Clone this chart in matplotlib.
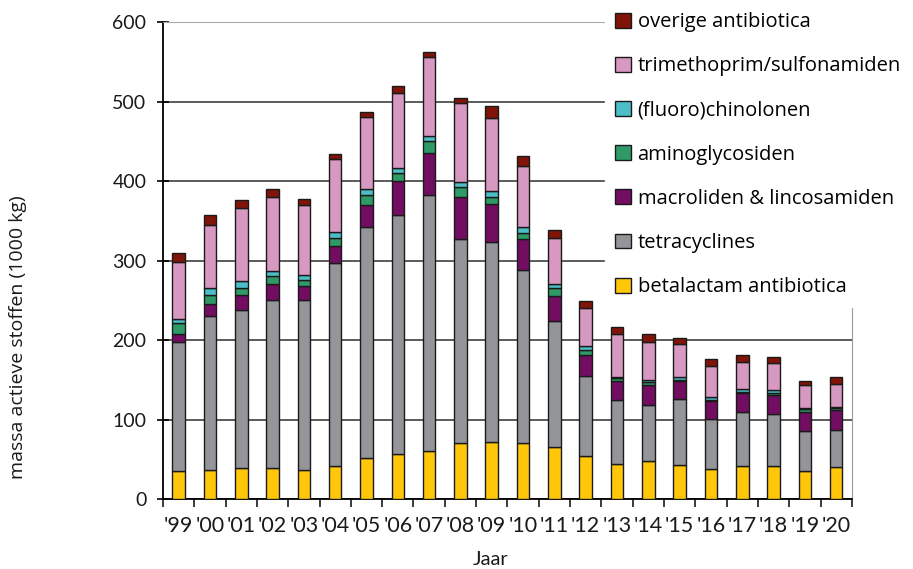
import matplotlib.pyplot as plt
import numpy as np
from matplotlib.patches import Patch

plt.rcParams['font.family'] = ['Lato', 'DejaVu Sans']

years = ["'99", "'00", "'01", "'02", "'03", "'04", "'05", "'06", "'07", "'08", "'09",
         "'10", "'11", "'12", "'13", "'14", "'15", "'16", "'17", "'18", "'19", "'20"]

# massa actieve stoffen (1000 kg) per groep
betalactam = [35, 37, 39, 39, 36, 41, 51, 57, 61, 71, 72, 71, 66, 54, 44, 48, 43, 38, 42, 42, 35, 40]
tetracyclines = [163, 193, 199, 212, 214, 256, 291, 300, 321, 256, 252, 217, 158, 101, 80, 70, 83, 63, 67, 65, 50, 47]
macroliden = [10, 16, 19, 20, 18, 22, 28, 43, 54, 53, 47, 39, 32, 26, 25, 26, 22, 22, 24, 24, 25, 25]
aminoglycosiden = [13, 11, 9, 10, 8, 10, 12, 10, 14, 12, 9, 8, 9, 6, 3, 3, 2, 2, 2, 2, 3, 3]
fluorochinolonen = [6, 8, 8, 6, 6, 7, 8, 7, 7, 7, 8, 7, 6, 5, 2, 3, 4, 3, 4, 4, 1, 1]
trimethoprim = [71, 80, 92, 93, 88, 92, 91, 94, 99, 99, 91, 77, 57, 48, 54, 48, 41, 40, 34, 34, 29, 29]
overige = [12, 13, 10, 10, 7, 6, 6, 9, 7, 7, 15, 12, 10, 9, 8, 10, 8, 8, 8, 8, 6, 8]

series = [
    ("betalactam antibiotica", betalactam, "#FFC60A"),
    ("tetracyclines", tetracyclines, "#939598"),
    ("macroliden & lincosamiden", macroliden, "#730D62"),
    ("aminoglycosiden", aminoglycosiden, "#2F9A68"),
    ("(fluoro)chinolonen", fluorochinolonen, "#4DBEC8"),
    ("trimethoprim/sulfonamiden", trimethoprim, "#D799C1"),
    ("overige antibiotica", overige, "#801409"),
]

fig = plt.figure(figsize=(9.13, 5.69), dpi=100)
ax = fig.add_axes([0.1785, 0.123, 0.7545, 0.838])

x = np.arange(len(years))
bottom = np.zeros(len(years))
handles = []
for name, vals, col in series:
    vals = np.array(vals, dtype=float)
    ax.bar(x, vals, bottom=bottom, width=0.4, color=col, edgecolor="#1a1a1a",
           linewidth=1.0, zorder=3)
    bottom += vals
    handles.append(Patch(facecolor=col, edgecolor="#1a1a1a", linewidth=1.0, label=name))

ax.set_xlim(-0.5, len(years) - 0.5)
ax.set_ylim(0, 600)
ax.set_yticks(range(0, 601, 100))
ax.grid(axis="y", color="#404040", linewidth=1.2, zorder=0)
ax.set_axisbelow(True)

ax.set_xticks(x)
ax.set_xticklabels(years, fontsize=15.5, color="#1a1a1a")
ax.set_xticks(np.arange(-0.5, len(years)), minor=True)
ax.tick_params(axis="x", which="major", length=0, pad=12)
ax.tick_params(axis="x", which="minor", length=6, width=1.2, direction="out", color="#1a1a1a")
ax.tick_params(axis="y", length=8, width=1.2, direction="inout", labelsize=14,
               labelcolor="#1a1a1a", pad=8)

ax.spines["left"].set_linewidth(1.3)
ax.spines["bottom"].set_linewidth(1.3)
ax.spines["top"].set_color("#aaaaaa")
ax.spines["right"].set_color("#999999")

ax.set_ylabel("massa actieve stoffen (1000 kg)", fontsize=14,
              family=["Open Sans", "DejaVu Sans"], color="#1a1a1a")
ax.yaxis.set_label_coords(-0.197, 0.34)
ax.set_xlabel("Jaar", fontsize=14.5, color="#1a1a1a")
ax.xaxis.set_label_coords(0.475, -0.11)

leg = fig.legend(handles=handles[::-1], loc="upper left", bbox_to_anchor=(0.652, 1.014),
                 frameon=True, facecolor="white", edgecolor="white", framealpha=1,
                 prop={"family": ["Open Sans", "DejaVu Sans"], "size": 14.5},
                 handlelength=0.75, handleheight=0.75, handletextpad=0.35,
                 labelspacing=1.2, borderpad=0.5)
leg.set_zorder(10)

fig.savefig("out.png", dpi=100)
